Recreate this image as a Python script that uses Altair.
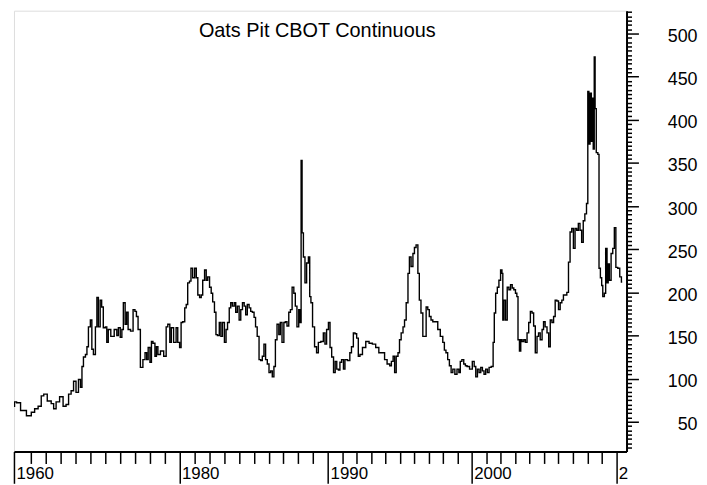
import altair as alt
import pandas as pd

# decimal years (as placed on the chart's time axis) and prices (cents/bushel)
years = [
    1968.85, 1968.93, 1969.13, 1969.47, 1969.93, 1970.13, 1970.38, 1970.60, 1970.80, 1970.94,
    1971.27, 1971.47, 1971.60, 1971.80, 1972.07, 1972.27, 1972.47, 1972.61, 1972.81, 1972.94,
    1973.14, 1973.27, 1973.41, 1973.47, 1973.61, 1973.74, 1973.81, 1973.94, 1974.07, 1974.14,
    1974.28, 1974.41, 1974.48, 1974.61, 1974.72, 1974.81, 1974.94, 1975.08, 1975.14, 1975.28,
    1975.48, 1975.74, 1975.83, 1975.95, 1976.08, 1976.17, 1976.28, 1976.41, 1976.48, 1976.61,
    1976.81, 1976.95, 1977.06, 1977.15, 1977.28, 1977.46, 1977.62, 1977.75, 1977.84, 1977.95,
    1978.08, 1978.15, 1978.28, 1978.42, 1978.48, 1978.62, 1978.82, 1979.06, 1979.15, 1979.28,
    1979.42, 1979.48, 1979.73, 1979.82, 1979.95, 1980.07, 1980.15, 1980.29, 1980.42, 1980.49,
    1980.62, 1980.73, 1980.82, 1980.96, 1981.09, 1981.18, 1981.29, 1981.42, 1981.51, 1981.62,
    1981.76, 1981.84, 1981.96, 1982.09, 1982.18, 1982.29, 1982.42, 1982.49, 1982.62, 1982.74,
    1982.83, 1982.96, 1983.09, 1983.18, 1983.29, 1983.41, 1983.49, 1983.63, 1983.74, 1983.83,
    1983.96, 1984.07, 1984.18, 1984.30, 1984.41, 1984.50, 1984.63, 1984.74, 1984.85, 1984.96,
    1985.08, 1985.16, 1985.30, 1985.41, 1985.52, 1985.63, 1985.74, 1985.85, 1985.97, 1986.08,
    1986.19, 1986.30, 1986.41, 1986.50, 1986.63, 1986.74, 1986.83, 1986.97, 1987.08, 1987.17,
    1987.30, 1987.41, 1987.52, 1987.64, 1987.75, 1987.84, 1987.97, 1988.08, 1988.15, 1988.22,
    1988.28, 1988.40, 1988.49, 1988.62, 1988.73, 1988.80, 1988.89, 1989.02, 1989.16, 1989.29,
    1989.40, 1989.62, 1989.74, 1989.84, 1989.96, 1990.09, 1990.18, 1990.32, 1990.44, 1990.55,
    1990.66, 1990.78, 1990.87, 1991.01, 1991.13, 1991.22, 1991.47, 1991.56, 1991.70, 1991.82,
    1991.93, 1992.05, 1992.16, 1992.28, 1992.51, 1992.74, 1992.97, 1993.20, 1993.43, 1993.64,
    1993.89, 1993.98, 1994.24, 1994.35, 1994.47, 1994.59, 1994.68, 1994.81, 1994.93, 1995.02,
    1995.16, 1995.28, 1995.37, 1995.51, 1995.62, 1995.71, 1995.85, 1995.97, 1996.06, 1996.20,
    1996.31, 1996.40, 1996.54, 1996.66, 1996.77, 1996.89, 1997.00, 1997.10, 1997.24, 1997.35,
    1997.58, 1997.70, 1997.93, 1998.05, 1998.15, 1998.27, 1998.39, 1998.51, 1998.63, 1998.75,
    1998.91, 1999.05, 1999.17, 1999.25, 1999.39, 1999.51, 1999.62, 1999.74, 1999.97, 2000.12,
    2000.23, 2000.34, 2000.46, 2000.57, 2000.69, 2000.80, 2000.91, 2001.03, 2001.15, 2001.26,
    2001.44, 2001.53, 2001.60, 2001.72, 2001.83, 2001.94, 2002.06, 2002.13, 2002.18, 2002.29,
    2002.40, 2002.52, 2002.63, 2002.75, 2002.86, 2002.97, 2003.09, 2003.16, 2003.25, 2003.36,
    2003.43, 2003.55, 2003.66, 2003.77, 2003.89, 2004.00, 2004.12, 2004.23, 2004.34, 2004.46,
    2004.58, 2004.67, 2004.81, 2004.93, 2005.01, 2005.15, 2005.27, 2005.38, 2005.49, 2005.61,
    2005.72, 2005.83, 2005.95, 2006.06, 2006.18, 2006.29, 2006.40, 2006.52, 2006.64, 2006.75,
    2006.86, 2006.98, 2007.09, 2007.21, 2007.32, 2007.43, 2007.55, 2007.66, 2007.77, 2007.88,
    2008.00, 2008.06, 2008.15, 2008.22, 2008.33, 2008.37, 2008.44, 2008.51, 2008.56, 2008.67,
    2008.78, 2008.83, 2008.97, 2009.01, 2009.12, 2009.23, 2009.30, 2009.42, 2009.46, 2009.58,
    2009.70, 2009.81, 2009.92, 2010.02, 2010.18, 2010.30, 2010.41,
]
prices = [
    68, 73, 72, 63, 57, 61, 65, 68, 80, 82,
    74, 71, 65, 73, 79, 68, 70, 82, 86, 97,
    84, 99, 90, 114, 125, 128, 137, 160, 168, 134,
    128, 160, 194, 160, 191, 183, 159, 160, 142, 157,
    149, 157, 150, 159, 148, 157, 188, 163, 177, 157,
    155, 180, 178, 172, 157, 113, 122, 130, 122, 136,
    119, 143, 141, 126, 137, 128, 132, 126, 160, 163,
    142, 159, 142, 159, 142, 136, 165, 166, 182, 186,
    211, 213, 228, 217, 228, 217, 197, 194, 197, 214,
    226, 214, 218, 206, 199, 189, 177, 151, 150, 165,
    149, 165, 142, 157, 165, 182, 188, 184, 188, 177,
    184, 168, 180, 188, 184, 174, 186, 182, 178, 177,
    171, 160, 149, 122, 121, 126, 140, 122, 117, 107,
    109, 102, 114, 145, 163, 151, 165, 142, 165, 166,
    161, 177, 180, 206, 199, 184, 160, 180, 165, 353,
    269, 241, 211, 234, 241, 195, 188, 160, 137, 130,
    142, 143, 153, 140, 157, 165, 136, 125, 107, 120,
    111, 110, 119, 122, 111, 122, 121, 130, 137, 153,
    152, 147, 126, 128, 136, 143, 141, 140, 136, 130,
    130, 122, 117, 115, 120, 126, 107, 126, 130, 145,
    153, 160, 168, 188, 222, 241, 230, 245, 252, 255,
    222, 191, 176, 149, 149, 183, 180, 172, 168, 166,
    166, 157, 149, 142, 133, 130, 122, 115, 107, 111,
    105, 111, 107, 120, 122, 117, 115, 114, 111, 120,
    114, 102, 111, 107, 113, 109, 105, 111, 107, 113,
    114, 142, 176, 199, 206, 214, 226, 222, 168, 191,
    168, 206, 203, 209, 205, 203, 199, 195, 145, 132,
    145, 143, 145, 142, 153, 165, 178, 176, 161, 130,
    149, 153, 145, 157, 166, 160, 153, 137, 168, 165,
    172, 191, 190, 180, 188, 191, 197, 197, 200, 235,
    270, 274, 251, 274, 272, 280, 272, 258, 283, 291,
    303, 433, 372, 431, 375, 425, 366, 473, 413, 362,
    360, 228, 217, 208, 195, 199, 251, 211, 233, 214,
    245, 251, 275, 229, 228, 218, 212,
]

# axis tick labels
x_label_years = [1968.85, 1980, 1990, 2000, 2010]
x_label_texts = ["1960", "1980", "1990", "2000", "2"]
x_tick_years = [1968.85] + list(range(1970, 2011))
y_tick_values = list(range(20, 526, 5))
y_label_values = [50, 100, 150, 200, 250, 300, 350, 400, 450, 500]

df = pd.DataFrame({"year": years, "price": prices})

FONT = "Liberation Sans, Arial, Helvetica, sans-serif"

x_label_expr = "".join(
    f"abs(datum.value - {v}) < 0.01 ? '{t}' : " for v, t in zip(x_label_years, x_label_texts)
) + "''"
x_major_test = " || ".join(f"abs(datum.value - {v}) < 0.01" for v in x_label_years)
y_major_test = "datum.value % 50 === 0"

x_axis = alt.Axis(
    values=x_tick_years,
    title=None,
    grid=False,
    domainColor="black",
    domainWidth=2,
    tickColor="black",
    tickWidth=1.5,
    tickSize={"condition": {"test": x_major_test, "value": 32}, "value": 12},
    labelExpr=x_label_expr,
    labelAlign="left",
    labelBaseline="top",
    labelPadding=-18,
    labelOffset=2,
    labelFlush=False,
    labelOverlap=False,
    labelBound=False,
    labelFont=FONT,
    labelFontSize=17,
    labelColor="black",
)

y_axis = alt.Axis(
    orient="right",
    values=y_tick_values,
    title=None,
    grid=False,
    domainColor="black",
    domainWidth=2,
    tickColor="black",
    tickWidth=1.5,
    tickSize={"condition": {"test": y_major_test, "value": 12}, "value": 5},
    labelExpr="indexof(" + str(y_label_values) + ", datum.value) >= 0 ? toString(datum.value) : ''",
    labelAlign="right",
    labelBaseline="middle",
    labelPadding=59,
    labelOffset=3,
    labelFlush=False,
    labelOverlap=False,
    labelBound=False,
    labelFont=FONT,
    labelFontSize=18,
    labelColor="black",
)

chart = (
    alt.Chart(df)
    .mark_line(color="black", strokeWidth=1.4, interpolate="step", clip=True)
    .encode(
        x=alt.X(
            "year:Q",
            scale=alt.Scale(
                domain=[1968.85, 1970, 1980, 1990, 2000, 2010, 2010.71],
                range=[0, 17, 166.7, 316.4, 461, 606.7, 617],
                nice=False,
                zero=False,
            ),
            axis=x_axis,
        ),
        y=alt.Y(
            "price:Q",
            scale=alt.Scale(domain=[15.5, 526.5], nice=False, zero=False),
            axis=y_axis,
        ),
    )
    .properties(
        width=617,
        height=444,
        padding={"left": 6, "top": 1, "right": 73, "bottom": 32},
        autosize=alt.AutoSizeParams(type="none"),
        title=alt.TitleParams(
            "Oats Pit CBOT Continuous",
            font=FONT,
            fontSize=20,
            fontWeight="normal",
            color="black",
            anchor="middle",
            baseline="alphabetic",
            offset=0,
            dy=51,
            dx=-3,
        ),
    )
    .configure_view(stroke=None)
    .configure(background="white")
)

chart.save("out.html", embed_options={"renderer": "svg", "actions": False})
